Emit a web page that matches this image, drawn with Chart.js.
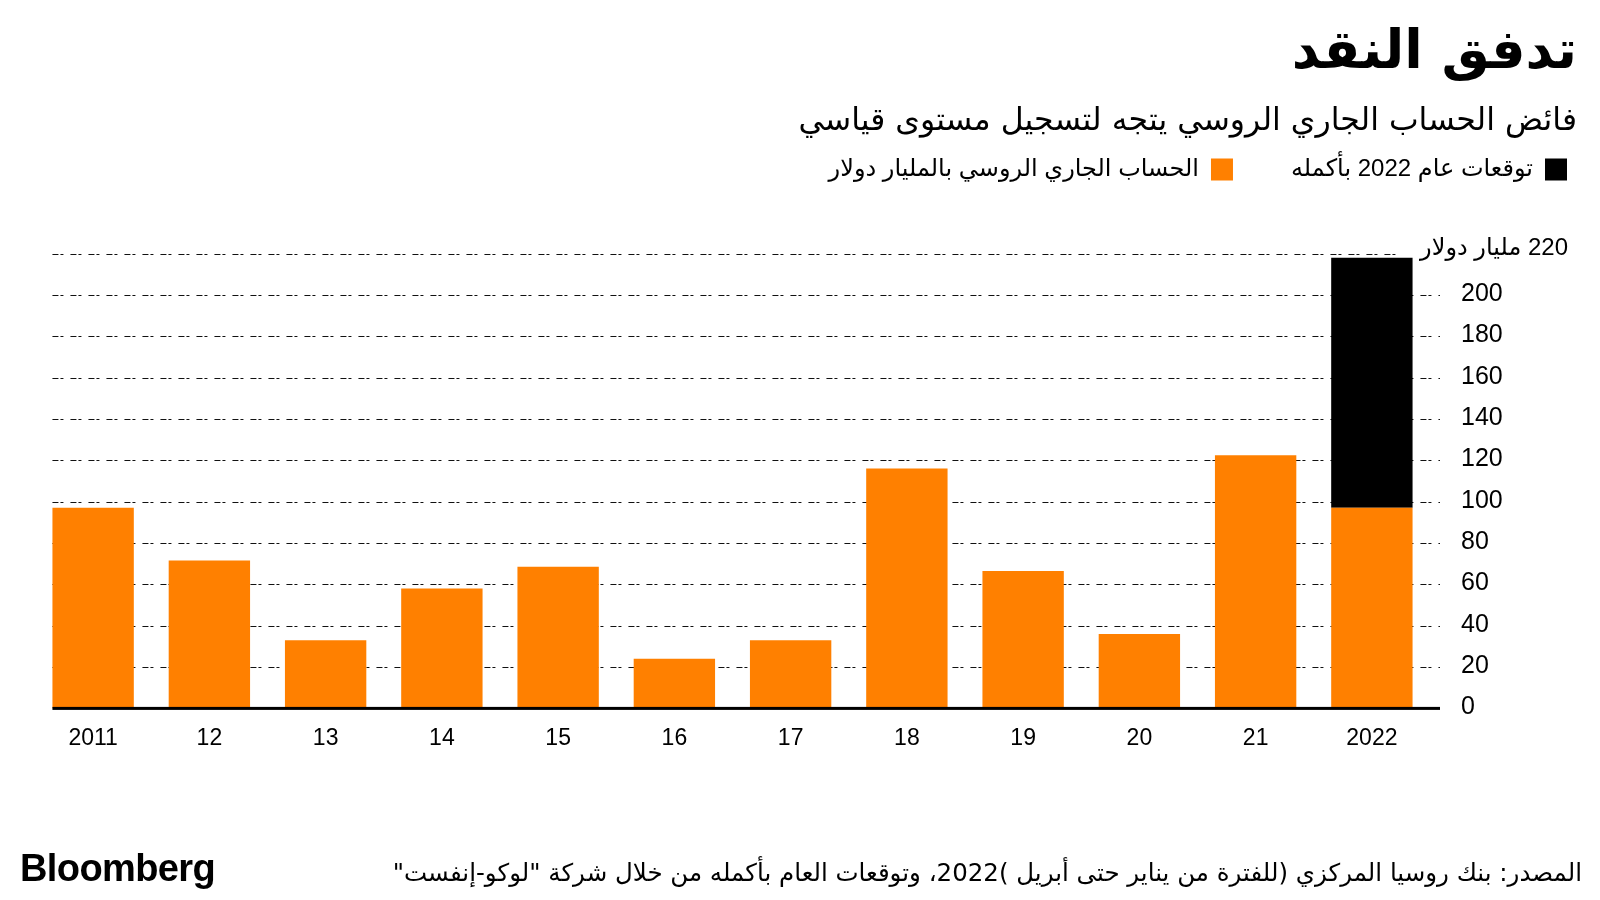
<!DOCTYPE html>
<html lang="ar">
<head>
<meta charset="utf-8">
<title>تدفق النقد</title>
<script src="https://cdn.jsdelivr.net/npm/chart.js@4.4.1/dist/chart.umd.min.js"></script>
<style>
  html, body { margin: 0; padding: 0; background: #fff; }
  .wrap { position: relative; width: 1600px; height: 900px; }
  canvas { display: block; }
  .brand {
    position: absolute; left: 20px; top: 847px;
    font: bold 38px "Liberation Sans", Arial, sans-serif;
    letter-spacing: -0.6px; color: #000;
  }
  .source {
    position: absolute; right: 18px; top: 858px;
    font: 24.5px "DejaVu Sans", sans-serif;
    color: #000; white-space: nowrap;
  }
</style>
</head>
<body>
<div class="wrap">
  <canvas id="flowChart" width="1600" height="900"></canvas>
  <div class="brand">Bloomberg</div>
  <div class="source" dir="rtl">المصدر: بنك روسيا المركزي (للفترة من يناير حتى أبريل )2022، وتوقعات العام بأكمله من خلال شركة "لوكو-إنفست"</div>
</div>
<script>
// Russian current account surplus, $bn
const years = ['2011', '12', '13', '14', '15', '16', '17', '18', '19', '20', '21', '2022'];
const surplus = [97, 71.5, 33, 58, 68.5, 24, 33, 116, 66.5, 36, 122.5, 97];
// extra on top of Jan-Apr 2022 to reach the full-year forecast
const forecastRest = [null, null, null, null, null, null, null, null, null, null, null, 121];

const yMax = 220;
const yStep = 20;
const topLabel = '220 مليار دولار';

const surplusLabel = 'الحساب الجاري الروسي بالمليار دولار';
const forecastLabel = 'توقعات عام 2022 بأكمله';

const latinFont = "'Liberation Sans', 'DejaVu Sans', sans-serif";
const arabicFont = "'DejaVu Sans', sans-serif";

// dashed grid lines, solid baseline and the unit label on the top tick
const dashedGrid = {
    id: 'dashedGrid',
    beforeInit(chart) {
        // push the plot area down below the legend
        const fit = chart.legend.fit;
        chart.legend.fit = function () {
            fit.call(this);
            this.height += 62;
        };
    },
    beforeDatasetsDraw(chart) {
        const { ctx, chartArea } = chart;
        const y = chart.scales.y;
        const firstBar = chart.getDatasetMeta(0).data[0];
        const left = firstBar.x - firstBar.width / 2;
        ctx.save();
        ctx.strokeStyle = '#111';
        ctx.lineWidth = 1;
        ctx.setLineDash([6, 2, 3, 7]);
        y.ticks.forEach(t => {
            if (t.value === 0) return;
            const py = Math.round(y.getPixelForValue(t.value)) + 0.5;
            ctx.beginPath();
            ctx.moveTo(left, py);
            ctx.lineTo(t.value === yMax ? chartArea.right - 33 : chartArea.right + 10, py);
            ctx.stroke();
        });
        ctx.restore();
    },
    afterDatasetsDraw(chart) {
        const { ctx, chartArea } = chart;
        const y = chart.scales.y;
        const firstBar = chart.getDatasetMeta(0).data[0];
        const left = firstBar.x - firstBar.width / 2;
        const base = y.getPixelForValue(0);
        ctx.save();
        ctx.fillStyle = '#000';
        ctx.fillRect(left, base - 1.5, chartArea.right + 10 - left, 3);

        ctx.font = '24px ' + latinFont;
        ctx.direction = 'rtl';
        ctx.textAlign = 'right';
        ctx.textBaseline = 'middle';
        ctx.fillText(topLabel, chart.width - 32, y.getPixelForValue(yMax) - 5);
        ctx.restore();
    }
};

const ctx = document.getElementById('flowChart').getContext('2d');

new Chart(ctx, {
    type: 'bar',
    data: {
        labels: years,
        datasets: [
            {
                label: surplusLabel,
                data: surplus,
                backgroundColor: '#ff8000',
                borderWidth: 0
            },
            {
                label: forecastLabel,
                data: forecastRest,
                backgroundColor: '#000000',
                borderWidth: 0
            }
        ]
    },
    options: {
        responsive: false,
        animation: false,
        categoryPercentage: 1,
        barPercentage: 0.7,
        layout: {
            padding: { top: 22, right: 23, bottom: 132, left: 35 }
        },
        plugins: {
            title: {
                display: true,
                text: 'تدفق النقد',
                align: 'end',
                color: '#000',
                font: { family: arabicFont, size: 54, weight: 'bold', lineHeight: 1.2 },
                padding: { top: 0, bottom: 16 }
            },
            subtitle: {
                display: true,
                text: 'فائض الحساب الجاري الروسي يتجه لتسجيل مستوى قياسي',
                align: 'end',
                color: '#000',
                font: { family: arabicFont, size: 31.5, lineHeight: 1.2 },
                padding: { top: 0, bottom: 7 }
            },
            legend: {
                position: 'top',
                align: 'start',
                rtl: true,
                textDirection: 'rtl',
                reverse: true,
                labels: {
                    color: '#000',
                    boxWidth: 22,
                    boxHeight: 22,
                    padding: 10,
                    font: { family: latinFont, size: 24 },
                    generateLabels(chart) {
                        const items = Chart.defaults.plugins.legend.labels.generateLabels(chart);
                        // wider gap after the forecast item
                        items.forEach(item => {
                            if (item.datasetIndex === 1) item.text += '\u2003\u2003';
                        });
                        return items;
                    }
                }
            },
            tooltip: { enabled: false }
        },
        scales: {
            x: {
                stacked: true,
                grid: { display: false, drawTicks: false },
                border: { display: false },
                ticks: {
                    color: '#000',
                    padding: 16,
                    font: { family: latinFont, size: 23 }
                }
            },
            y: {
                stacked: true,
                position: 'right',
                min: 0,
                max: yMax,
                grid: { display: false, drawTicks: false },
                border: { display: false },
                afterFit(scale) {
                    scale.width = 147;
                },
                ticks: {
                    stepSize: yStep,
                    color: '#000',
                    padding: 31,
                    labelOffset: -1,
                    font: { family: latinFont, size: 25 },
                    callback: value => value === yMax ? '' : value
                }
            }
        }
    },
    plugins: [dashedGrid]
});
</script>
</body>
</html>
